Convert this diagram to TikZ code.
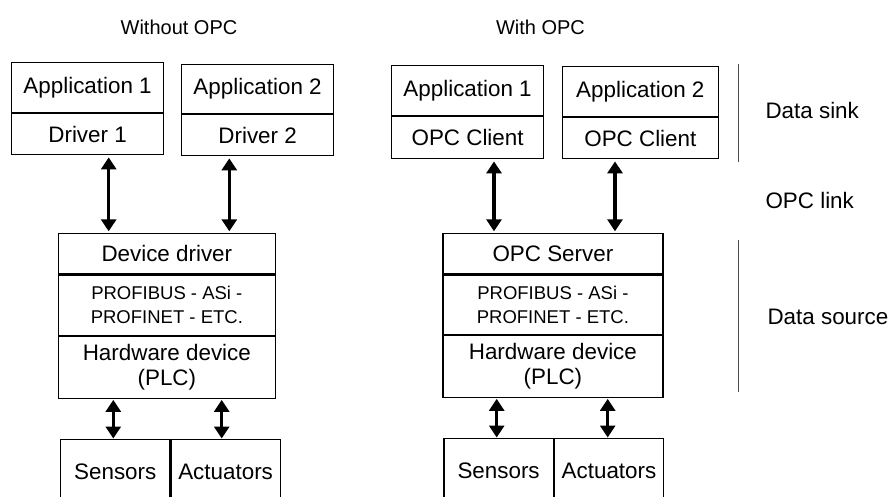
\documentclass[tikz,border=0pt]{standalone}
\usepackage{fontspec}
\setmainfont{Liberation Sans}
\usetikzlibrary{arrows.meta,positioning}

\begin{document}
\begin{tikzpicture}[x=1pt,y=-1pt,
    box/.style={draw, line width=1.2pt, inner sep=0pt, align=center, font=\fontsize{22.4}{25}\selectfont},
    bus/.style={box, font=\fontsize{18.5}{24}\selectfont},
    link/.style={line width=3.3pt, shorten <=2pt, shorten >=2pt,
        {Triangle[length=12pt,width=15pt]}-{Triangle[length=12pt,width=15pt]}},
    title/.style={font=\fontsize{20}{24}\selectfont},
    side/.style={anchor=west, font=\fontsize{22.4}{25}\selectfont}]
    \clip (0,0) rectangle (889,497);

    % left half, without OPC
    \node[title] (without) at (179,27) {Without OPC};
    \node[box, minimum width=152, minimum height=50, anchor=north west] (app1) at (11,62) {Application 1};
    \node[box, minimum width=152, minimum height=41, below=0pt of app1] (drv1) {Driver 1};
    \node[box, minimum width=152, minimum height=49, anchor=north west] (app2) at (181,64) {Application 2};
    \node[box, minimum width=152, minimum height=41, below=0pt of app2] (drv2) {Driver 2};

    \node[box, minimum width=217.5, minimum height=40, anchor=north west] (dev) at (57.5,233.3) {Device driver};
    \node[bus, minimum width=217.5, minimum height=60, below=0pt of dev] (bus) {PROFIBUS - ASi -\\PROFINET - ETC.};
    \node[box, minimum width=217.5, minimum height=62, below=0pt of bus] (hw) {Hardware device\\(PLC)};

    \node[box, minimum width=109.3, minimum height=64, anchor=north west] (sens) at (60,439) {Sensors};
    \node[box, minimum width=109, minimum height=64, right=0pt of sens] (act) {Actuators};

    \coordinate (l1) at (108.7,0);
    \coordinate (l2) at (229.3,0);
    \coordinate (l3) at (113.3,0);
    \coordinate (l4) at (221.7,0);
    \draw[link] (drv1.south -| l1) -- (dev.north -| l1);
    \draw[link] (drv2.south -| l2) -- (dev.north -| l2);
    \draw[link, shorten <=1pt, shorten >=0.5pt] (hw.south -| l3) -- (sens.north -| l3);
    \draw[link, shorten <=1pt, shorten >=0.5pt] (hw.south -| l4) -- (act.north -| l4);

    % right half, with OPC
    \node[title] (with) at (540.5,27) {With OPC};
    \node[box, minimum width=152, minimum height=50, anchor=north west] (rapp1) at (391,65) {Application 1};
    \node[box, minimum width=152, minimum height=42, below=0pt of rapp1] (cli1) {OPC Client};
    \node[box, minimum width=155.5, minimum height=50, anchor=north west] (rapp2) at (562,66) {Application 2};
    \node[box, minimum width=155.5, minimum height=41, below=0pt of rapp2] (cli2) {OPC Client};

    \node[box, minimum width=220, minimum height=40, anchor=north west] (srv) at (442.3,233.3) {OPC Server};
    \node[bus, minimum width=220, minimum height=59.5, below=0pt of srv] (rbus) {PROFIBUS - ASi -\\PROFINET - ETC.};
    \node[box, minimum width=220, minimum height=61.5, below=0pt of rbus] (rhw) {Hardware device\\(PLC)};

    \node[box, minimum width=109.4, minimum height=64, anchor=north west] (rsens) at (443.3,438) {Sensors};
    \node[box, minimum width=109, minimum height=64, right=0pt of rsens] (ract) {Actuators};

    \coordinate (r1) at (494,0);
    \coordinate (r2) at (615,0);
    \coordinate (r3) at (496.7,0);
    \coordinate (r4) at (607.7,0);
    \draw[link] (cli1.south -| r1) -- (srv.north -| r1);
    \draw[link] (cli2.south -| r2) -- (srv.north -| r2);
    \draw[link, shorten <=1pt, shorten >=0.5pt] (rhw.south -| r3) -- (rsens.north -| r3);
    \draw[link, shorten <=1pt, shorten >=0.5pt] (rhw.south -| r4) -- (ract.north -| r4);

    % layer marks on the right
    \draw[line width=1.2pt, black!70] (738.3,64) -- (738.3,162);
    \draw[line width=1.2pt, black!70] (738.3,240) -- (738.3,392);
    \node[side] (sink) at (762,110) {Data sink};
    \node[side] (opclink) at (762,200) {OPC link};
    \node[side] (source) at (764,317) {Data source};
\end{tikzpicture}
\end{document}
